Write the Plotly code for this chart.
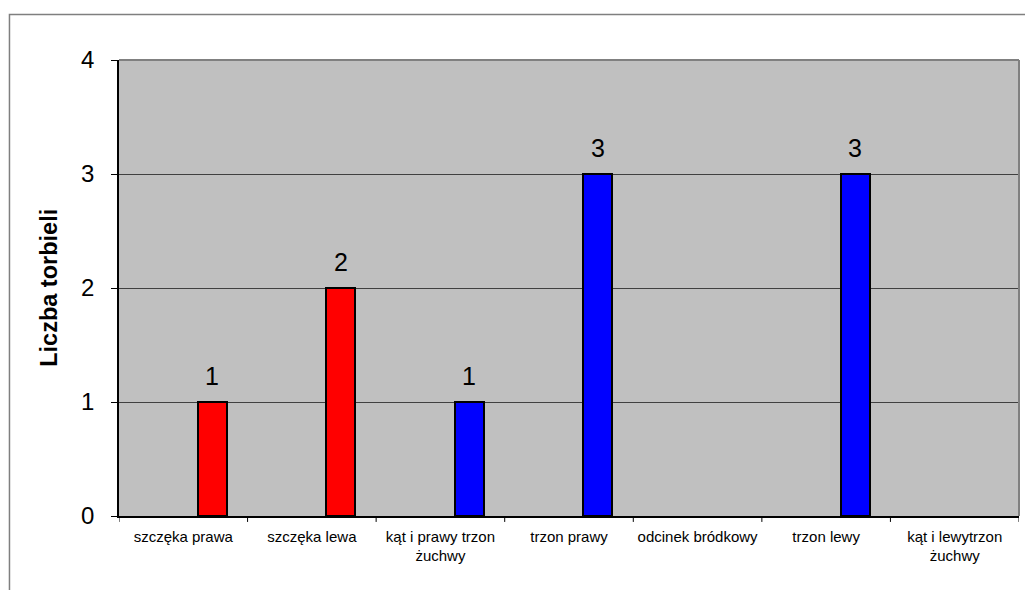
import plotly.graph_objects as go

# Cyst counts by location
categories = [
    "szczęka prawa",
    "szczęka lewa",
    "kąt i prawy trzon<br>żuchwy",
    "trzon prawy",
    "odcinek bródkowy",
    "trzon lewy",
    "kąt i lewytrzon<br>żuchwy",
]
counts = [1, 2, 1, 3, 0, 3, 0]
bar_colors = ["#FF0000", "#FF0000", "#0000FF", "#0000FF", "#0000FF", "#0000FF", "#0000FF"]
y_ticks = [0, 1, 2, 3, 4]

FONT = "Arial, Liberation Sans, sans-serif"
BAR_W = 0.226
BAR_OFF = 0.112

x_idx = list(range(len(categories)))

fig = go.Figure()
fig.add_trace(go.Bar(
    x=x_idx,
    y=counts,
    width=BAR_W,
    offset=BAR_OFF,
    marker=dict(
        color=bar_colors,
        line=dict(color="#000000", width=[2 if v > 0 else 0 for v in counts]),
    ),
    hoverinfo="skip",
))

# value labels above non-empty bars
for i, v in zip(x_idx, counts):
    if v > 0:
        fig.add_annotation(
            x=i + BAR_OFF + BAR_W / 2, y=v, xref="x", yref="y",
            text=str(v), showarrow=False, yanchor="middle", yshift=26,
            font=dict(family=FONT, size=25, color="#000000"),
        )

# y axis title
fig.add_annotation(
    x=-0.078, y=0.5, xref="paper", yref="paper",
    xanchor="center", yanchor="middle",
    text="<b>Liczba torbieli</b>", textangle=-90, showarrow=False,
    font=dict(family=FONT, size=23.5, color="#000000"),
)

# plot-area frame (top/right) and outer chart border
fig.add_shape(type="line", xref="paper", yref="paper", x0=0, x1=1, y0=1, y1=1,
              line=dict(color="#808080", width=2), layer="above")
fig.add_shape(type="line", xref="paper", yref="paper", x0=1, x1=1, y0=0, y1=1,
              line=dict(color="#808080", width=2), layer="above")
fig.add_shape(type="rect", xref="paper", yref="paper",
              x0=-0.1217, x1=1.02, y0=-0.2, y1=1.0998,
              line=dict(color="#7F7F7F", width=1.5), layer="below")

fig.update_layout(
    width=1025, height=590,
    margin=dict(l=119, r=6, t=60, b=74),
    paper_bgcolor="#FFFFFF",
    plot_bgcolor="#C0C0C0",
    showlegend=False,
    bargap=0,
    font=dict(family=FONT, color="#000000"),
    xaxis=dict(
        type="linear",
        range=[-0.5, len(categories) - 0.5],
        tickvals=x_idx,
        ticktext=categories,
        ticks="",
        ticklabelstandoff=6,
        showgrid=False,
        zeroline=False,
        showline=True, linecolor="#000000", linewidth=1.5,
        tickfont=dict(family=FONT, size=15, color="#000000"),
        fixedrange=True,
    ),
    yaxis=dict(
        range=[0, 4],
        tickvals=y_ticks,
        ticks="outside", ticklen=6, tickcolor="#000000", tickwidth=1,
        ticklabelstandoff=12,
        showgrid=True, gridcolor="#404040", gridwidth=1,
        zeroline=False,
        showline=True, linecolor="#000000", linewidth=1.5,
        tickfont=dict(family=FONT, size=24, color="#000000"),
        fixedrange=True,
    ),
)

# category boundary ticks on the x axis
for b in range(len(categories) + 1):
    fig.add_shape(type="line", xref="x", yref="paper",
                  x0=b - 0.5, x1=b - 0.5, y0=0, y1=-0.013,
                  line=dict(color="#000000", width=1))

fig.write_html("out.html", config={"displayModeBar": False})
